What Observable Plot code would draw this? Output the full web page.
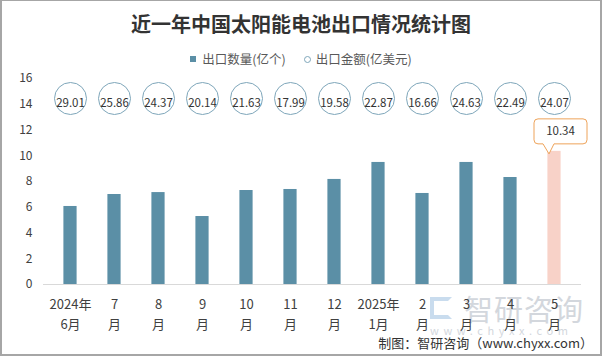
<!DOCTYPE html>
<html><head><meta charset="utf-8">
<script src="https://cdn.jsdelivr.net/npm/d3@7"></script>
<script src="https://cdn.jsdelivr.net/npm/@observablehq/plot@0.6"></script>
<style>
html,body{margin:0;padding:0;background:#fff;}
#wrap{position:relative;width:602px;height:356px;overflow:hidden;font-family:"Noto Sans CJK SC",sans-serif;background:#fff;}
#frame{position:absolute;left:0;top:0;width:602px;height:356px;border:2px solid #a6a6a6;border-top-width:1px;box-sizing:border-box;pointer-events:none;z-index:5;}
#title{position:absolute;left:0;width:602px;top:10px;height:28px;line-height:28px;text-align:center;font-size:20px;font-weight:700;color:#333;}
#legend{position:absolute;left:0;width:602px;top:50px;height:18px;line-height:18px;display:flex;justify-content:center;align-items:center;font-size:12.5px;color:#595959;}
#legend .item{display:flex;align-items:center;margin:0 9px;}
#legend .sq{width:6px;height:6px;background:#5b8fa6;margin-right:6px;}
#legend .ci{width:5px;height:5px;border:1px solid #7ea6ba;border-radius:50%;margin-right:5px;}
#chart{position:absolute;left:0;top:70px;z-index:2;}
#caption{position:absolute;right:9px;top:334px;height:18px;line-height:18px;font-size:13px;color:#333;z-index:3;}
#wm{position:absolute;left:428px;top:292px;width:160px;height:50px;z-index:1;color:#d3d7dd;}
#wm .big{position:absolute;left:36px;top:0;font-size:29px;line-height:32px;letter-spacing:1px;}
#wm .small{position:absolute;left:2px;top:31px;font-size:11px;line-height:14px;letter-spacing:4.6px;}
#wm .icon{position:absolute;left:2px;top:5px;width:22px;height:22px;border:4px solid #c9dcee;border-right-color:transparent;box-sizing:border-box;}
</style>
</head><body>
<div id="wrap">
  <div id="title">近一年中国太阳能电池出口情况统计图</div>
  <div id="legend">
    <div class="item"><div class="sq"></div><span>出口数量(亿个)</span></div>
    <div class="item"><div class="ci"></div><span>出口金额(亿美元)</span></div>
  </div>
  <div id="wm"><div class="icon"></div><div class="big">智研咨询</div><div class="small">www.chyxx.com</div></div>
  <div id="chart"></div>
  <div id="caption">制图：智研咨询（www.chyxx.com）</div>
  <div id="frame"></div>
</div>
<script>
const months = ["2024年\n6月","7\n月","8\n月","9\n月","10\n月","11\n月","12\n月","2025年\n1月","2\n月","3\n月","4\n月","5\n月"];
const quantity = [6.06, 6.99, 7.14, 5.28, 7.30, 7.38, 8.16, 9.48, 7.07, 9.48, 8.31, 10.34];
const amount = [29.01, 25.86, 24.37, 20.14, 21.63, 17.99, 19.58, 22.87, 16.66, 24.63, 22.49, 24.07];
const yTicks = [0, 2, 4, 6, 8, 10, 12, 14, 16];
const highlightMonth = "5\n月";

const barColor = "#5b8fa6";
const hlColor = "#f8d2c8";
const circleStroke = "#7ea6ba";
const calloutStroke = "#eea35a";

const rows = months.map((m, i) => ({month: m, quantity: quantity[i], amount: amount[i], hl: m === highlightMonth}));
const hlRows = rows.filter(d => d.hl);

function callout(index, scales) {
  const g = d3.create("svg:g");
  const bw = scales.x.bandwidth ? scales.x.bandwidth() : 0;
  for (const d of hlRows) {
    const cx = scales.x(d.month) + bw / 2;
    const cy = scales.y(d.quantity);
    const L = cx - 20, R = cx + 33, T = cy - 32, B = cy - 7, r = 4;
    const p1 = cx - 11, p2 = cx, tx = cx - 5, ty = cy + 3;
    const path = `M${L + r},${T}H${R - r}Q${R},${T} ${R},${T + r}V${B - r}Q${R},${B} ${R - r},${B}H${p2}L${tx},${ty}L${p1},${B}H${L + r}Q${L},${B} ${L},${B - r}V${T + r}Q${L},${T} ${L + r},${T}Z`;
    g.append("path").attr("d", path).attr("fill", "white").attr("stroke", calloutStroke).attr("stroke-width", 1);
    g.append("text").attr("x", (L + R) / 2).attr("y", (T + B) / 2).attr("dy", "0.35em")
      .attr("text-anchor", "middle").attr("font-size", 11.5).attr("fill", "#333").text(d.quantity.toFixed(2));
  }
  return g.node();
}

const chart = Plot.plot({
  width: 602, height: 270,
  marginTop: 8, marginBottom: 56, marginLeft: 43, marginRight: 21,
  style: {fontFamily: "'Noto Sans CJK SC', sans-serif", color: "#404040", background: "transparent", overflow: "visible"},
  x: {domain: months, padding: 0, label: null},
  y: {domain: [0, 16], label: null},
  marks: [
    Plot.barY(rows.filter(d => !d.hl), {x: "month", y: "quantity", fill: barColor, insetLeft: 15.4, insetRight: 15.4}),
    Plot.barY(hlRows, {x: "month", y: "quantity", fill: hlColor, insetLeft: 15.4, insetRight: 15.4}),
    Plot.ruleY([0], {stroke: "#d9d9d9"}),
    Plot.axisY(yTicks, {tickSize: 0, tickPadding: 11, fontSize: 12, label: null}),
    Plot.axisX({tickSize: 0, tickPadding: 10, fontSize: 13, lineHeight: 1.54, label: null}),
    Plot.dot(rows, {x: "month", frameAnchor: "top", dy: 20, r: 16, stroke: circleStroke, fill: "white", strokeWidth: 1}),
    Plot.text(rows, {x: "month", frameAnchor: "top", dy: 20, text: d => d.amount.toFixed(2), fontSize: 11.5, fill: "#333"}),
    callout
  ]
});
document.getElementById("chart").appendChild(chart);
</script>
</body></html>
